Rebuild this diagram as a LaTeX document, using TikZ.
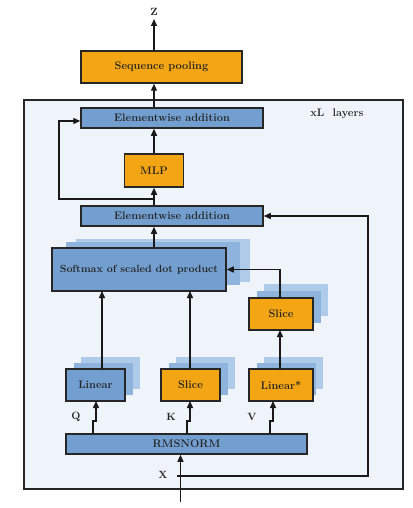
\documentclass[tikz,border=0pt]{standalone}
\usetikzlibrary{arrows.meta,calc}
\definecolor{bgc}{HTML}{EFF4FB}
\definecolor{bluec}{HTML}{729FD0}
\definecolor{orangec}{HTML}{F3A514}
\definecolor{shadA}{HTML}{8EB4DE}
\definecolor{shadB}{HTML}{AECBE9}
\begin{document}
\begin{tikzpicture}[x=1pt,y=-1pt,
  box/.style={draw=black!85, line width=1.5pt, inner sep=0pt, font=\bfseries\fontsize{11}{13}\selectfont, text=black!85},
  bluebox/.style={box, fill=bluec},
  orangebox/.style={box, fill=orangec},
  conn/.style={draw=black!90, line width=1.4pt, -{Triangle[length=7pt,width=6pt]}},
  lbl/.style={font=\bfseries\fontsize{10.5}{12}\selectfont, text=black!85, inner sep=0pt},
  shA/.style={fill=shadA, draw=none},
  shB/.style={fill=shadB, draw=none}]
\useasboundingbox (0,0) rectangle (412,508);
% outer frame
\draw[fill=bgc, draw=black!85, line width=1.5pt] (24,100) rectangle (403,489);
\node[lbl, font=\bfseries\fontsize{11}{13}\selectfont] (layers) at (337,114) {xL\ \ layers};
% shadows
\fill[shB] (76,239) rectangle ++(174,43);
\fill[shA] (66,242) rectangle ++(174,43);
\foreach \x in {66,161,249}{
  \fill[shB] (\x+15,357) rectangle ++(59,32);
  \fill[shA] (\x+8,363) rectangle ++(59,32);
}
\fill[shB] (264,284) rectangle ++(64,32);
\fill[shA] (257,291) rectangle ++(64,32);
% nodes
\node[orangebox, minimum width=161, minimum height=32] (pool) at (161.5,67) {Sequence pooling};
\node[bluebox, minimum width=182, minimum height=20] (ea1) at (172,118) {Elementwise addition};
\node[orangebox, minimum width=59, minimum height=33] (mlp) at (154,170.5) {MLP};
\node[bluebox, minimum width=182, minimum height=20] (ea2) at (172,216) {Elementwise addition};
\node[bluebox, minimum width=174, minimum height=43, font=\bfseries\fontsize{10.4}{12}\selectfont] (soft) at (139,269.5) {Softmax of scaled dot product};
\node[bluebox, minimum width=59, minimum height=32] (lin) at (95.5,385) {Linear};
\node[orangebox, minimum width=59, minimum height=32] (slk) at (190.5,385) {Slice};
\node[orangebox, minimum width=64, minimum height=32] (linv) at (281,385) {Linear*};
\node[orangebox, minimum width=64, minimum height=32] (slv) at (281,314) {Slice};
\node[bluebox, minimum width=241, minimum height=20] (rms) at (186.5,444) {RMSNORM};
% labels
\node[lbl] (z) at (154,12) {Z};
\node[lbl] (q) at (76,417) {Q};
\node[lbl] (k) at (171,417) {K};
\node[lbl] (v) at (252,417) {V};
\node[lbl] (xx) at (163,475) {X};
\coordinate (ztip) at (154,19);
\coordinate (xin) at (180.5,502);
\coordinate (xres) at (177,476);
% top flow
\draw[conn] (mlp.north |- pool.north) -- (ztip);
\draw[conn] (mlp.north |- ea1.north) -- (mlp.north |- pool.south);
\draw[conn] (mlp.north) -- (mlp.north |- ea1.south);
\draw[conn] (mlp.south |- ea2.north) -- (mlp.south);
\draw[conn] (mlp.south |- soft.north) -- (mlp.south |- ea2.south);
% skip around MLP
\draw[conn] (154,199) -- (59,199) -- (59,121) -- (ea1.west |- 0,121);
% residual from input
\draw[conn] (xres) -- (368,476) -- (368,216) -- (ea2.east);
% input
\draw[draw=black!90, line width=1pt, -{Triangle[length=7pt,width=6pt]}] (xin) -- (xin |- rms.south);
% Q K V branches
\draw[conn] (93,434) -- (93,421) -- (96,421) -- (96,401);
\draw[conn] (187,434) -- (187,421) -- (190,421) -- (190,401);
\draw[conn] (270,434) -- (270,421) -- (273,421) -- (273,401);
% to softmax
\draw[conn] (102,369) -- (102,291);
\draw[conn] (190,369) -- (190,291);
\draw[conn] (280,369) -- (280,330);
\draw[conn] (280,298) -- (280,269.5) -- (soft.east);
\end{tikzpicture}
\end{document}
